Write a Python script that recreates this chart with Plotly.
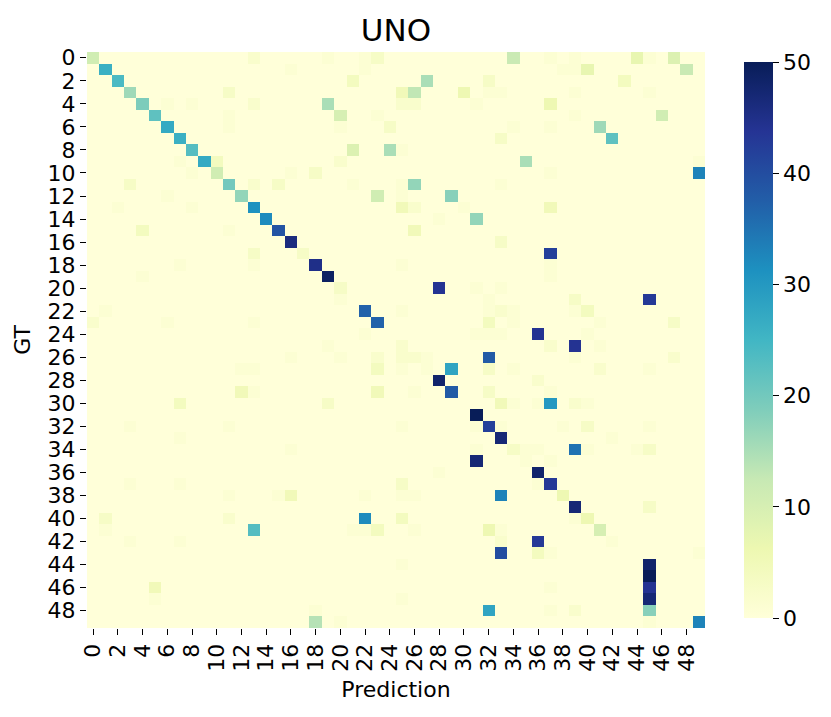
"""Confusion matrix heatmap for UNO predictions."""

import numpy as np
import plotly.graph_objects as go

n_classes = 50
title_text = "UNO"

# Predicted class indices per GT row and the matching counts
pred_cols = [
    [0, 13, 19, 22, 23, 34, 37, 39, 44, 45, 47],
    [1, 16, 22, 38, 39, 40, 48],
    [2, 21, 27, 32, 43],
    [3, 11, 25, 26, 30, 32, 33, 39, 45],
    [4, 6, 8, 13, 19, 25, 26, 31, 37],
    [5, 11, 20, 23, 39, 46],
    [6, 11, 20, 24, 34, 37, 41],
    [7, 33, 42],
    [8, 21, 24, 25],
    [7, 9, 10, 20, 35, 49],
    [8, 10, 16, 18, 37, 49],
    [3, 11, 13, 15, 21, 25, 26, 33],
    [6, 12, 23, 25, 29],
    [2, 8, 13, 25, 26, 30, 37],
    [14, 28, 31],
    [4, 11, 15, 26],
    [16, 33],
    [13, 17, 37],
    [7, 13, 18, 25, 37],
    [4, 19, 37],
    [20, 28, 31, 33],
    [20, 32, 39, 45],
    [1, 22, 25, 32, 33, 34, 39, 40],
    [0, 6, 13, 23, 32, 34, 41, 47],
    [22, 31, 32, 33, 36, 40],
    [19, 25, 37, 39, 41],
    [16, 20, 23, 25, 26, 27, 32, 39, 47],
    [12, 13, 23, 25, 27, 29, 32, 34, 41, 45],
    [28, 36],
    [12, 13, 23, 26, 29, 32, 37],
    [7, 19, 33, 34, 36, 37, 39, 40],
    [31],
    [3, 11, 25, 31, 32, 33, 38, 40, 45],
    [7, 33, 42],
    [16, 31, 34, 35, 36, 39, 40, 44, 45],
    [31, 35, 37],
    [28, 36],
    [3, 7, 25, 36, 37],
    [11, 15, 16, 22, 25, 26, 33, 38],
    [39, 45],
    [1, 11, 22, 25, 39, 40],
    [1, 13, 21, 22, 23, 26, 32, 33, 41],
    [3, 7, 33, 36, 42],
    [33, 36, 37, 49],
    [25, 45],
    [45],
    [5, 37, 45],
    [5, 25, 45],
    [18, 32, 37, 39, 45],
    [18, 20, 45, 49],
]

pred_counts = [
    [11, 2, 1, 1, 3, 12, 1, 1, 7, 1, 9],
    [26, 1, 1, 1, 1, 7, 12],
    [24, 4, 15, 3, 4],
    [16, 3, 5, 13, 6, 1, 1, 1, 1],
    [19, 1, 1, 2, 15, 2, 2, 1, 6],
    [22, 1, 10, 1, 1, 11],
    [27, 1, 1, 3, 1, 1, 16],
    [26, 3, 22],
    [23, 9, 15, 1],
    [1, 27, 4, 2, 15, 1],
    [1, 11, 1, 3, 1, 33],
    [3, 20, 2, 3, 1, 1, 17, 1],
    [1, 17, 11, 1, 18],
    [1, 1, 31, 5, 2, 1, 5],
    [32, 1, 17],
    [4, 1, 39, 5],
    [46, 3],
    [3, 3, 42],
    [1, 1, 45, 1, 1],
    [1, 49, 1],
    [3, 44, 1, 1],
    [1, 1, 3, 43],
    [1, 37, 1, 1, 2, 1, 1, 4],
    [2, 1, 1, 37, 4, 1, 1, 3],
    [1, 1, 1, 1, 44, 1],
    [1, 2, 2, 44, 1],
    [1, 1, 2, 2, 2, 1, 38, 1, 2],
    [1, 1, 4, 1, 1, 28, 3, 1, 2, 1],
    [48, 2],
    [5, 1, 5, 1, 38, 3, 1],
    [4, 3, 5, 1, 1, 30, 2, 1],
    [50],
    [1, 1, 1, 1, 42, 1, 1, 3, 1],
    [1, 47, 1],
    [1, 1, 3, 1, 1, 35, 1, 1, 3],
    [47, 1, 1],
    [1, 48],
    [1, 1, 3, 1, 43],
    [1, 1, 5, 1, 1, 1, 33, 6],
    [47, 3],
    [3, 2, 32, 4, 1, 6],
    [1, 23, 1, 1, 4, 1, 6, 1, 10],
    [1, 1, 2, 43, 1],
    [40, 4, 1, 1],
    [1, 48],
    [50],
    [5, 1, 44],
    [1, 1, 47],
    [1, 28, 1, 2, 18],
    [14, 1, 1, 33],
]

# matplotlib YlGnBu
ylgnbu = [
    "#ffffd9", "#edf8b1", "#c7e9b4", "#7fcdbb", "#41b6c4",
    "#1d91c0", "#225ea8", "#253494", "#081d58",
]

z = np.zeros((n_classes, n_classes))
for gt, (cols, counts) in enumerate(zip(pred_cols, pred_counts)):
    for c, v in zip(cols, counts):
        z[gt, c] = v

colorscale = [[i / (len(ylgnbu) - 1), col] for i, col in enumerate(ylgnbu)]
labels = list(range(n_classes))
tick_vals = list(range(0, n_classes, 2))

font = "DejaVu Sans, Arial, sans-serif"
tick_font = dict(size=22, color="black", family=font)

fig = go.Figure()
fig.add_trace(
    go.Heatmap(
        z=z,
        x=labels,
        y=labels,
        zmin=0,
        zmax=50,
        colorscale=colorscale,
        colorbar=dict(
            x=1.063,
            xanchor="left",
            xpad=0,
            y=0.5,
            yanchor="middle",
            len=1,
            thickness=29,
            outlinewidth=0,
            ticks="outside",
            ticklen=6,
            tickwidth=1.2,
            tickcolor="black",
            tickvals=[0, 10, 20, 30, 40, 50],
            tickfont=tick_font,
        ),
    )
)

fig.update_xaxes(
    range=[-0.5, n_classes - 0.5],
    tickvals=tick_vals,
    tickangle=-90,
    ticks="outside",
    ticklen=6,
    tickwidth=1.2,
    tickcolor="black",
    showgrid=False,
    zeroline=False,
    automargin=False,
    tickfont=tick_font,
    title=dict(text="Prediction", font=tick_font, standoff=10),
)
fig.update_yaxes(
    range=[n_classes - 0.5, -0.5],
    tickvals=tick_vals,
    ticks="outside",
    ticklen=6,
    tickwidth=1.2,
    tickcolor="black",
    showgrid=False,
    zeroline=False,
    automargin=False,
    tickfont=tick_font,
    title=dict(text="GT", font=tick_font, standoff=10),
)

fig.update_layout(
    width=831,
    height=717,
    margin=dict(l=87, r=126, t=52, b=89, autoexpand=False),
    paper_bgcolor="white",
    plot_bgcolor="white",
    title=dict(
        text=title_text,
        x=0.5,
        xref="paper",
        y=1 - 30 / 717,
        yref="container",
        yanchor="middle",
        font=dict(size=31, color="black", family=font),
    ),
)

# drop the default page margin so the figure sits at the window origin
fig.write_html(
    "out.html",
    config={"displayModeBar": False},
    post_script="document.body.style.margin = '0';",
)
